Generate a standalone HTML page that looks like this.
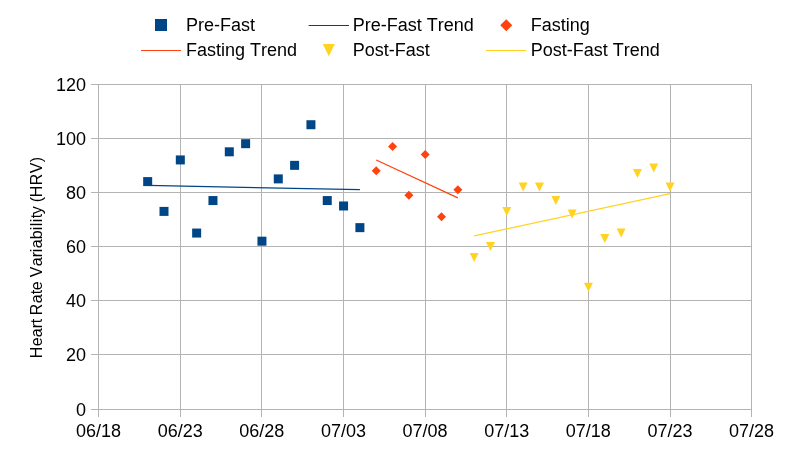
<!DOCTYPE html><html><head><meta charset="utf-8"><style>html,body{margin:0;padding:0;background:#fff;width:800px;height:450px;overflow:hidden}svg{display:block}text{font-family:"Liberation Sans",Arial,sans-serif;fill:#000;font-kerning:none}</style></head><body>
<svg width="800" height="450" viewBox="0 0 800 450">
<rect width="800" height="450" fill="#fff"/>
<path d="M91 84.5H752 M91 138.5H752 M91 192.5H752 M91 246.5H752 M91 300.5H752 M91 354.5H752 M91 409.5H752 M98.5 84V417 M180.5 84V417 M261.5 84V417 M343.5 84V417 M425.5 84V417 M506.5 84V417 M588.5 84V417 M670.5 84V417 M751.5 84V417" stroke="#b3b3b3" stroke-width="1" fill="none" shape-rendering="crispEdges"/>
<text x="86" y="90.5" font-size="18" text-anchor="end">120</text>
<text x="86" y="144.5" font-size="18" text-anchor="end">100</text>
<text x="86" y="198.5" font-size="18" text-anchor="end">80</text>
<text x="86" y="252.5" font-size="18" text-anchor="end">60</text>
<text x="86" y="306.5" font-size="18" text-anchor="end">40</text>
<text x="86" y="360.5" font-size="18" text-anchor="end">20</text>
<text x="86" y="415.5" font-size="18" text-anchor="end">0</text>
<text x="98.55" y="437" font-size="18" text-anchor="middle">06/18</text>
<text x="180.18" y="437" font-size="18" text-anchor="middle">06/23</text>
<text x="261.80" y="437" font-size="18" text-anchor="middle">06/28</text>
<text x="343.43" y="437" font-size="18" text-anchor="middle">07/03</text>
<text x="425.05" y="437" font-size="18" text-anchor="middle">07/08</text>
<text x="506.68" y="437" font-size="18" text-anchor="middle">07/13</text>
<text x="588.30" y="437" font-size="18" text-anchor="middle">07/18</text>
<text x="669.92" y="437" font-size="18" text-anchor="middle">07/23</text>
<text x="751.55" y="437" font-size="18" text-anchor="middle">07/28</text>
<text transform="translate(42,358.3) rotate(-90)" x="0 12 21 30 35 39 43 55 64 68 77 81 92 101 106 110 119 128 132 136 140 144 152 156 161 173 185 196" y="0" font-size="16">Heart Rate Variability (HRV)</text>
<line x1="147.68" y1="185.47" x2="359.90" y2="189.72" stroke="#004586" stroke-width="1.2"/>
<line x1="376.22" y1="159.93" x2="457.85" y2="197.85" stroke="#ff420e" stroke-width="1.2"/>
<line x1="474.17" y1="235.80" x2="670.08" y2="193.65" stroke="#ffd320" stroke-width="1.2"/>
<rect x="143.18" y="177.10" width="9" height="9" fill="#004586"/>
<rect x="159.50" y="206.89" width="9" height="9" fill="#004586"/>
<rect x="175.82" y="155.43" width="9" height="9" fill="#004586"/>
<rect x="192.15" y="228.56" width="9" height="9" fill="#004586"/>
<rect x="208.47" y="196.06" width="9" height="9" fill="#004586"/>
<rect x="224.80" y="147.31" width="9" height="9" fill="#004586"/>
<rect x="241.12" y="139.18" width="9" height="9" fill="#004586"/>
<rect x="257.45" y="236.68" width="9" height="9" fill="#004586"/>
<rect x="273.77" y="174.39" width="9" height="9" fill="#004586"/>
<rect x="290.10" y="160.85" width="9" height="9" fill="#004586"/>
<rect x="306.43" y="120.23" width="9" height="9" fill="#004586"/>
<rect x="322.75" y="196.06" width="9" height="9" fill="#004586"/>
<rect x="339.07" y="201.48" width="9" height="9" fill="#004586"/>
<rect x="355.40" y="223.14" width="9" height="9" fill="#004586"/>
<path d="M376.22 166.27L380.72 170.77L376.22 175.27L371.72 170.77Z" fill="#ff420e"/>
<path d="M392.55 141.89L397.05 146.39L392.55 150.89L388.05 146.39Z" fill="#ff420e"/>
<path d="M408.88 190.64L413.38 195.14L408.88 199.64L404.38 195.14Z" fill="#ff420e"/>
<path d="M425.20 150.02L429.70 154.52L425.20 159.02L420.70 154.52Z" fill="#ff420e"/>
<path d="M441.52 212.31L446.02 216.81L441.52 221.31L437.02 216.81Z" fill="#ff420e"/>
<path d="M457.85 185.23L462.35 189.73L457.85 194.23L453.35 189.73Z" fill="#ff420e"/>
<path d="M469.67 252.93H478.67L474.17 261.93Z" fill="#ffd320"/>
<path d="M486.00 242.10H495.00L490.50 251.10Z" fill="#ffd320"/>
<path d="M502.32 206.89H511.32L506.82 215.89Z" fill="#ffd320"/>
<path d="M518.65 182.52H527.65L523.15 191.52Z" fill="#ffd320"/>
<path d="M534.98 182.52H543.98L539.48 191.52Z" fill="#ffd320"/>
<path d="M551.30 196.06H560.30L555.80 205.06Z" fill="#ffd320"/>
<path d="M567.62 209.60H576.62L572.12 218.60Z" fill="#ffd320"/>
<path d="M583.95 282.73H592.95L588.45 291.73Z" fill="#ffd320"/>
<path d="M600.27 233.98H609.27L604.77 242.98Z" fill="#ffd320"/>
<path d="M616.60 228.56H625.60L621.10 237.56Z" fill="#ffd320"/>
<path d="M632.93 168.98H641.93L637.43 177.98Z" fill="#ffd320"/>
<path d="M649.25 163.56H658.25L653.75 172.56Z" fill="#ffd320"/>
<path d="M665.58 182.52H674.58L670.08 191.52Z" fill="#ffd320"/>
<rect x="155" y="19" width="12" height="12" fill="#004586"/>
<text x="186" y="31.4" font-size="18">Pre-Fast</text>
<line x1="308.6" y1="25.5" x2="349" y2="25.5" stroke="#004586" stroke-width="1.2"/>
<text x="352.7" y="31.4" font-size="18">Pre-Fast Trend</text>
<path d="M506.25 19.2L512.25 25.2L506.25 31.2L500.25 25.2Z" fill="#ff420e"/>
<text x="530.7" y="31.4" font-size="18">Fasting</text>
<line x1="141" y1="50.5" x2="181" y2="50.5" stroke="#ff420e" stroke-width="1.2"/>
<text x="186" y="56.4" font-size="18">Fasting Trend</text>
<path d="M322.8 44H334.8L328.8 56.2Z" fill="#ffd320"/>
<text x="352.7" y="56.4" font-size="18">Post-Fast</text>
<line x1="486" y1="50.5" x2="526.3" y2="50.5" stroke="#ffd320" stroke-width="1.2"/>
<text x="530.7" y="56.4" font-size="18">Post-Fast Trend</text>
</svg></body></html>
